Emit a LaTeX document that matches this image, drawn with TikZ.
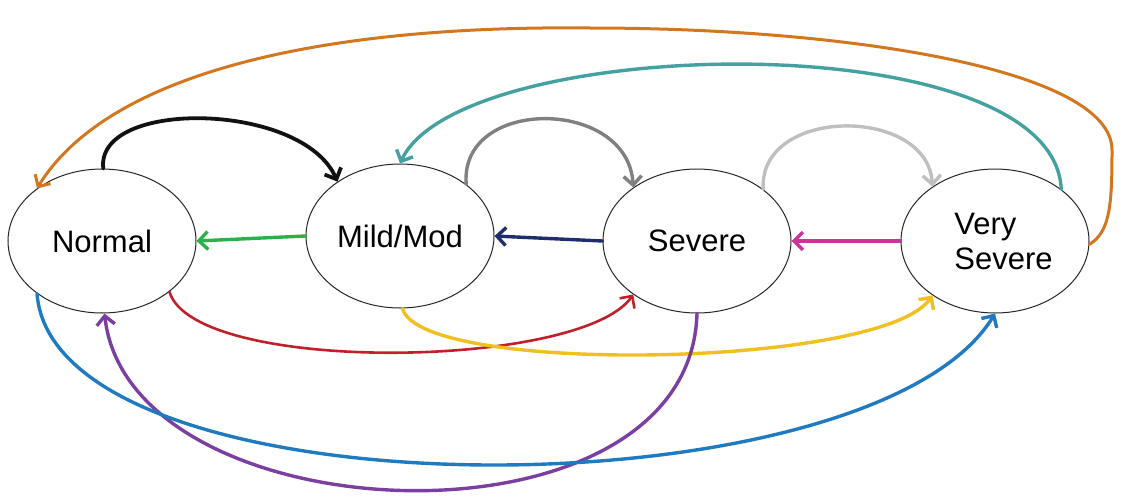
\documentclass[tikz,border=0pt]{standalone}
\usepackage{fontspec}
\setmainfont{Liberation Sans}
\usetikzlibrary{shapes.geometric,arrows.meta}

\definecolor{cBlack}{HTML}{111111}
\definecolor{cGray}{HTML}{808080}
\definecolor{cLight}{HTML}{BFBFBF}
\definecolor{cTeal}{HTML}{45A0A0}
\definecolor{cOrange}{HTML}{D2771F}
\definecolor{cGreen}{HTML}{2DB04A}
\definecolor{cNavy}{HTML}{1F2D6B}
\definecolor{cMagenta}{HTML}{C8359B}
\definecolor{cRed}{HTML}{C0202A}
\definecolor{cYellow}{HTML}{F0C020}
\definecolor{cPurple}{HTML}{7A3FA0}
\definecolor{cBlue}{HTML}{1F7AC0}

\tikzset{
  state/.style={ellipse, draw=black!85, line width=1pt, fill=white,
    minimum width=188pt, minimum height=144pt, inner sep=0pt,
    font=\fontsize{31}{35}\selectfont, align=left},
  link/.style={line width=3.4pt, line cap=round, line join=round,
    -{Straight Barb[length=9pt,width=18pt]}},
}

\begin{document}
\begin{tikzpicture}[x=1pt,y=-1pt]
\useasboundingbox (0,0) rectangle (1127,498);

% the four states
\node[state] (normal) at (102,241) {Normal};
\node[state] (mild)   at (400,236) {Mild/Mod};
\node[state] (severe) at (697,241) {Severe};
\node[state] (vsev)   at (995,241) {\hspace*{17pt}Very\\\hspace*{17pt}Severe};

% arcs over the top
\draw[link, cBlack, line width=3.8pt] (normal.89) .. controls +(-8,-70) and +(-35,-80) .. (mild.139);
\draw[link, cGray] (mild.38) .. controls +(-7,-88) and +(-5,-90) .. (severe.140);
\draw[link, cLight] (severe.38) .. controls +(-5,-83) and +(-5,-81) .. (vsev.139);
\draw[link, cTeal] (vsev.38) .. controls +(-7,-168) and +(60,-130) .. (mild.90);
\draw[link, cOrange, line width=3pt] (vsev.-2) .. controls (1110,232) and (1112,205) .. (1112,150)
  .. controls (1112,70) and (850,28) .. (590,28)
  .. controls (330,25) and (110,70) .. (normal.141);

% straight steps back
\draw[link, cGreen] (mild.180) -- (normal.0);
\draw[link, cNavy] (severe.180) -- (mild.0);
\draw[link, cMagenta] (vsev.180) -- (severe.0);

% arcs underneath
\draw[link, cRed, line width=2.6pt] (normal.-37) .. controls +(25,83) and +(-52,75) .. (severe.-140);
\draw[link, cYellow] (mild.-88) .. controls +(17,67) and +(-50,73) .. (vsev.-139);
\draw[link, cPurple] (severe.-90) .. controls +(-7,247) and +(25,224) .. (normal.-88);
\draw[link, cBlue] (normal.-141) .. controls +(17,224) and +(-125,205) .. (vsev.-90);
\end{tikzpicture}
\end{document}
